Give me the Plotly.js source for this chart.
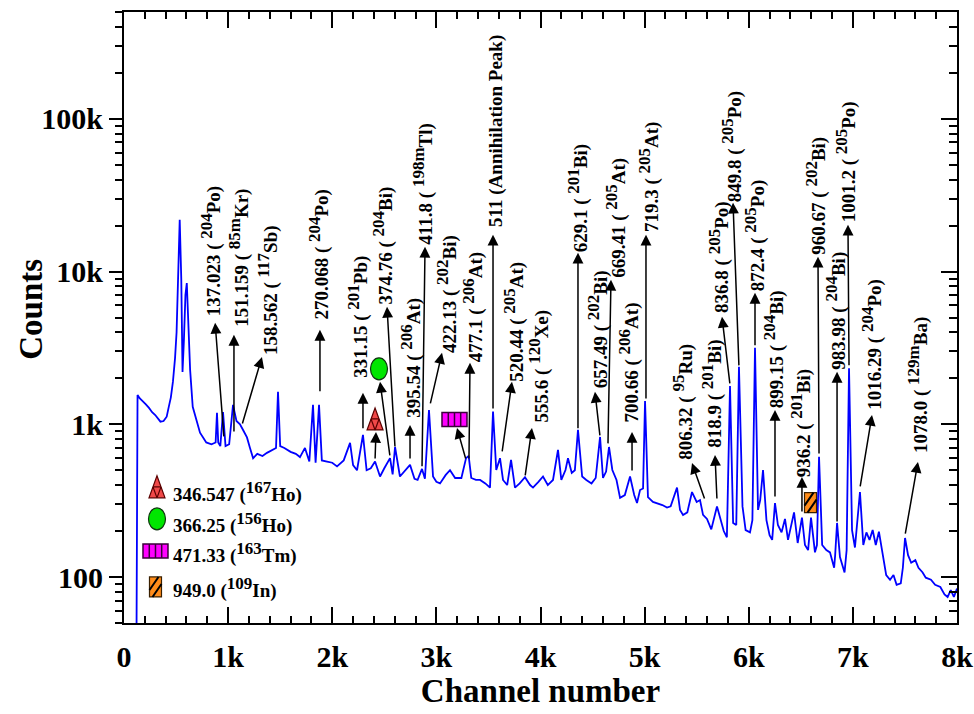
<!DOCTYPE html>
<html><head><meta charset="utf-8">
<script src="https://cdn.plot.ly/plotly-3.0.1.min.js"></script>
<style>html,body{margin:0;padding:0;background:#fff}#chart{width:974px;height:714px}</style>
</head><body><div id="chart"></div>
<script>
// ---------------- data ----------------
const channel = [
 120,130,150,180,210,240,270,300,330,350,
 380,410,430,450,470,490,505,520,535,550,
 562,575,590,603,618,635,660,690,730,790,
 840,880,893,905,925,951,975,1010,1047,1080,
 1114,1150,1181,1210,1240,1280,1330,1373,1420,1460,
 1479,1500,1540,1600,1650,1690,1738,1780,1815,1840,
 1873,1900,1950,2000,2046,2110,2171,2200,2238,2295,
 2330,2370,2411,2459,2500,2555,2580,2603,2650,2700,
 2747,2790,2820,2862,2890,2929,2968,3000,3035,3090,
 3131,3180,3240,3285,3310,3335,3380,3420,3470,3515,
 3544,3575,3611,3640,3680,3717,3755,3800,3851,3900,
 3928,3980,4024,4070,4120,4168,4200,4240,4264,4300,
 4330,4360,4400,4440,4490,4530,4572,4600,4630,4658,
 4690,4730,4764,4810,4860,4900,4927,4956,4985,5004,
 5032,5080,5119,5170,5215,5250,5311,5340,5369,5410,
 5455,5500,5532,5561,5599,5640,5695,5730,5760,5790,
 5820,5850,5880,5906,5940,5970,6012,6035,6060,6089,
 6110,6137,6170,6200,6225,6252,6280,6315,6348,6377,
 6400,6435,6470,6511,6540,6570,6598,6636,6655,6675,
 6705,6745,6780,6820,6830,6848,6876,6920,6940,6963,
 6992,7020,7068,7100,7130,7160,7190,7220,7250,7280,
 7320,7357,7390,7420,7460,7480,7501,7530,7560,7600,
 7630,7670,7700,7750,7790,7840,7880,7910,7940,7970,
 8000];
const counts = [
 40,1557,1480,1420,1350,1280,1200,1150,1090,1040,
 1050,1120,1300,1500,1900,2700,4000,9000,21800,9000,
 2200,3500,7000,8400,5000,2270,1300,1100,880,760,
 740,760,1187,760,720,1200,720,740,1339,1050,
 1000,900,820,700,600,640,620,650,680,700,
 1630,720,700,660,640,610,700,570,1340,560,
 1340,580,570,560,530,580,755,540,500,852,
 500,515,570,455,515,600,470,710,455,500,
 542,440,432,510,440,1240,455,420,410,466,
 500,445,445,600,620,445,432,432,410,385,
 1210,502,600,432,400,584,385,410,450,400,
 385,420,455,400,432,679,432,502,600,480,
 500,919,455,432,410,445,826,445,490,710,
 502,432,330,344,455,344,305,371,380,1420,
 333,310,305,296,285,290,385,275,255,265,
 360,310,319,255,240,205,290,236,200,182,
 1780,226,219,2376,290,203,196,236,3170,275,
 319,502,236,188,175,305,219,196,240,175,
 203,265,167,245,162,150,245,145,162,612,
 162,150,145,115,139,226,135,107,150,2330,
 203,156,360,162,196,175,203,162,198,145,
 103,96,103,89,91,115,180,139,124,129,
 115,107,99,96,89,86,77,74,82,74,
 84];

const xTickVals = [0,1000,2000,3000,4000,5000,6000,7000,8000];
const xTickText = ['0','1k','2k','3k','4k','5k','6k','7k','8k'];
const yTickVals = [100,1000,10000,100000];
const yTickText = ['100','1k','10k','100k'];

const peakEnergy = ['137.023','151.159','158.562','270.068','331.15','374.76','395.54','411.8','422.13','477.1',
 '511','520.44','555.6','629.1','657.49','669.41','700.66','719.3','806.32','818.9',
 '836.8','849.8','872.4','899.15','936.2','960.67','983.98','1001.2','1016.29','1078.0'];
const peakMass = ['204','85m','117','204','201','204','206','198m','202','206',
 '','205','120','201','202','205','206','205','95','201',
 '205','205','205','204','201','202','204','205','204','129m'];
const peakElement = ['Po','Kr','Sb','Po','Pb','Bi','At','Tl','Bi','At',
 'Annihilation Peak','At','Xe','Bi','Bi','At','At','At','Ru','Bi',
 'Po','Po','Po','Bi','Bi','Bi','Bi','Po','Po','Ba'];

const legendEnergy = ['346.547','366.25','471.33','949.0'];
const legendMass = ['167','156','163','109'];
const legendElement = ['Ho','Ho','Tm','In'];
const markerChannel = [2411, 2449, 3174, 6593];
const markerCounts = [1084, 2306, 1076, 307];

// ---------------- layout placement (not data) ----------------
// text anchor: [channel of right edge, counts at bottom]
const labelPos = [[970,5050],[1240,4350],[1520,2850],[2010,4830],[2380,2010],[2620,6060],[2890,1100],[3010,14980],[3230,2940],[3490,2560],
 [3680,19650],[3880,1895],[4120,1020],[4490,13270],[4690,1730],[4860,9100],[4980,1020],[5170,18220],[5500,584],[5780,700],
 [5850,5370],[5970,28220],[6190,7370],[6380,1280],[6640,452],[6780,12880],[6970,2270],[7070,20870],[7310,1240],[7760,649]];
// arrow: [head channel, head counts, tail channel, tail counts]
const arrowPos = [[875,4620,960,814],[1056,3850,1056,878],[1325,2760,1133,990],[1882,4150,1882,1606],[2295,1606,2295,919],
 [2526,5880,2603,700],[2747,990,2747,584],[2891,14530,2862,520],[3054,2936,2939,1339],[3323,2524,3313,584],
 [3544,17410,3544,1242],[3726,1895,3630,649],[3918,947,3851,452],[4360,13270,4360,919],[4523,1630,4572,826],
 [4677,8834,4648,733],[4879,891,4879,487],[5013,17410,5013,1444],[5455,558,5580,319],[5676,630,5695,319],
 [5743,5053,5820,1811],[5849,28220,5906,2376],[6060,7258,6060,3214],[6252,1242,6252,329],[6511,452,6511,262],
 [6665,12500,6675,630],[6848,2204,6848,226],[6953,20250,6963,2376],[7184,1152,7068,383],[7625,567,7501,188],
 [2420,891,2411,584],[2459,1895,2555,611],[3198,947,3285,584]];
const legendMarkerPos = [[0.0396,0.2228],[0.0396,0.1704],[0.0378,0.1179],[0.0378,0.0590]];
const legendTextPos = [[0.0588,0.2146],[0.0588,0.1638],[0.0588,0.1147],[0.0588,0.0573]];

const FONT = "'Liberation Serif','Times New Roman',serif";
const SUP = m => `<sup><span style="font-size:17px">${m}</span></sup>`;

// ---------------- shapes for markers ----------------
function ellipsePath(rx, ry) {
  const k = 0.5523;
  return `M${rx},0C${rx},${k*ry} ${k*rx},${ry} 0,${ry}C${-k*rx},${ry} ${-rx},${k*ry} ${-rx},0` +
         `C${-rx},${-k*ry} ${-k*rx},${-ry} 0,${-ry}C${k*rx},${-ry} ${rx},${-k*ry} ${rx},0Z`;
}
function markerShapes(kind, xref, yref, xa, ya) {
  const base = {xref:xref, yref:yref, xsizemode:'pixel', ysizemode:'pixel', xanchor:xa, yanchor:ya, layer:'above', type:'path'};
  const out = [];
  if (kind === 0) {
    out.push(Object.assign({}, base, {path:'M-8,-11L8,-11L0,11Z', fillcolor:'#f04848', line:{color:'#5a0000', width:1.2}}));
    out.push(Object.assign({}, base, {path:'M-4,0L4,0M-4,0L0,-11M4,0L0,-11', line:{color:'#5a0000', width:1.2}}));
  } else if (kind === 1) {
    out.push(Object.assign({}, base, {path:ellipsePath(8.5, 11), fillcolor:'#00e600', line:{color:'#113311', width:1.2}}));
  } else if (kind === 2) {
    out.push(Object.assign({}, base, {path:'M-12.5,-7L12.5,-7L12.5,7L-12.5,7Z', fillcolor:'#ff00ff', line:{color:'#3a003a', width:1.5}}));
    out.push(Object.assign({}, base, {path:'M-6.2,-7L-6.2,7M0,-7L0,7M6.2,-7L6.2,7', line:{color:'#3a003a', width:1.5}}));
  } else {
    out.push(Object.assign({}, base, {path:'M-6,-10L6,-10L6,10L-6,10Z', fillcolor:'#ff8c1a', line:{color:'#3a2000', width:1.2}}));
    out.push(Object.assign({}, base, {path:'M-6,-3L3,10M-3,-10L6,3', line:{color:'#000', width:2}}));
  }
  return out;
}

const shapes = [];
const annotations = [];
const traces = [
  {x: channel, y: counts, type:'scatter', mode:'lines', line:{color:'#0000ff', width:1.8}, hoverinfo:'skip', showlegend:false},
  {x: [channel[1]], y: [counts[1]], yaxis:'y2', type:'scatter', mode:'markers', marker:{opacity:0}, hoverinfo:'skip', showlegend:false}
];

peakEnergy.forEach((e, i) => {
  const txt = peakMass[i] ? `${e} ( ${SUP(peakMass[i])}${peakElement[i]})` : `${e} (${peakElement[i]})`;
  annotations.push({x: labelPos[i][0], y: Math.log10(labelPos[i][1]), xref:'x', yref:'y', text: txt,
    textangle:-90, xanchor:'right', yanchor:'bottom', showarrow:false, borderpad:0, borderwidth:0,
    font:{family:FONT, size:19, color:'#000', weight:'bold'}});
});

// arrows: from the peak (tail) to a head just below each label
arrowPos.forEach(a => {
  annotations.push({x:a[0], y:Math.log10(a[1]), ax:a[2], ay:Math.log10(a[3]), xref:'x', yref:'y', axref:'x', ayref:'y',
    text:'', showarrow:true, arrowhead:2, arrowsize:1.45, arrowwidth:1.5, arrowcolor:'#000', standoff:0, startstandoff:0});
});

legendEnergy.forEach((e, i) => {
  markerShapes(i, 'x', 'y', markerChannel[i], markerCounts[i]).forEach(s => shapes.push(s));
  markerShapes(i, 'paper', 'paper', legendMarkerPos[i][0], legendMarkerPos[i][1]).forEach(s => shapes.push(s));
  annotations.push({x: legendTextPos[i][0], y: legendTextPos[i][1], xref:'paper', yref:'paper', xanchor:'left', yanchor:'middle',
    text: `${e} (${SUP(legendMass[i])}${legendElement[i]})`, showarrow:false, borderpad:0, borderwidth:0,
    font:{family:FONT, size:19, color:'#000', weight:'bold'}});
});

// y axis title placed as rotated text
annotations.push({x:-0.1116, y:0.5127, xref:'paper', yref:'paper', xanchor:'center', yanchor:'middle', textangle:-90,
  text:'Counts', showarrow:false, font:{family:FONT, size:33, color:'#000', weight:'bold'}});

const yMinor = [];
for (let d = 1; d <= 5; d++) for (let k = 2; k <= 9; k++) { const v = k * Math.pow(10, d); if (v >= 50 && v <= 500000) yMinor.push(v); }
const yRange = [Math.log10(50), Math.log10(500000)];

const layout = {
  width:974, height:714,
  margin:{l:124, r:17, t:12, b:91},
  paper_bgcolor:'#fff', plot_bgcolor:'#fff',
  font:{family:FONT, color:'#000', weight:'bold'},
  showlegend:false,
  xaxis:{range:[0,8000], showgrid:false, zeroline:false, showline:true, linewidth:2, linecolor:'#000', mirror:'ticks',
    tickmode:'array', tickvals:xTickVals, ticktext:xTickText, ticks:'inside', ticklen:16, tickwidth:2, tickcolor:'#000',
    ticklabelstandoff:6,
    minor:{dtick:200, tick0:0, ticks:'inside', ticklen:7, tickwidth:2, tickcolor:'#000', showgrid:false},
    tickfont:{family:FONT, size:30, weight:'bold'},
    title:{text:'Channel number', font:{family:FONT, size:33, weight:'bold'}, standoff:4}},
  yaxis:{type:'log', range:yRange, showgrid:false, zeroline:false, showline:true, linewidth:2, linecolor:'#000',
    tickmode:'array', tickvals:yTickVals, ticktext:yTickText, ticks:'outside', ticklen:13, tickwidth:2, tickcolor:'#000',
    minor:{tickmode:'array', tickvals:yMinor, ticks:'outside', ticklen:7, tickwidth:2, tickcolor:'#000', showgrid:false},
    tickfont:{family:FONT, size:30, weight:'bold'}},
  yaxis2:{type:'log', range:yRange, overlaying:'y', side:'right', showgrid:false, zeroline:false, showline:true, linewidth:2, linecolor:'#000',
    tickmode:'array', tickvals:yTickVals, showticklabels:false, ticks:'inside', ticklen:16, tickwidth:2, tickcolor:'#000',
    minor:{tickmode:'array', tickvals:yMinor, ticks:'inside', ticklen:8, tickwidth:2, tickcolor:'#000', showgrid:false}},
  shapes: shapes,
  annotations: annotations
};

Plotly.newPlot('chart', traces, layout, {staticPlot:true, displayModeBar:false});
</script>
</body></html>
